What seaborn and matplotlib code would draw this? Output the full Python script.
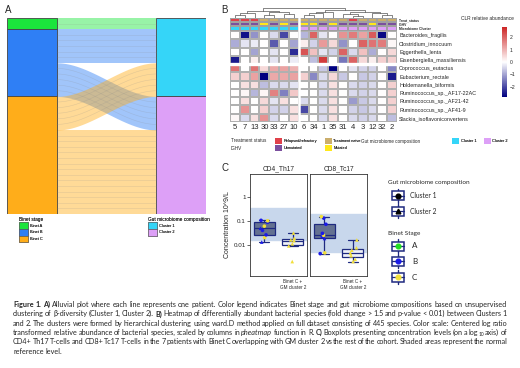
import numpy as np
import pandas as pd
import matplotlib
matplotlib.use("Agg")
import matplotlib.pyplot as plt
import seaborn as sns
from matplotlib.patches import Patch, Rectangle
from matplotlib.colors import LinearSegmentedColormap, ListedColormap

# ---- panel A data (patients per flow) ----
binet_levels = ["A", "B", "C"]
cluster_levels = ["Cluster 1", "Cluster 2"]
flow_from = ["A", "B", "B", "C", "C"]
flow_to = ["Cluster 1", "Cluster 1", "Cluster 2", "Cluster 1", "Cluster 2"]
flow_n = [2, 6, 6, 6, 15]

# ---- panel B data ----
hm_cols = ["5", "7", "13", "30", "33", "27", "10",
           "6", "34", "1", "35", "31", "4", "3", "12", "32", "2"]
hm_rows = ["Bacteroides_fragilis", "Clostridium_innocuum", "Eggerthella_lenta",
           "Eisenbergiella_massiliensis", "Coprococcus_eutactus", "Eubacterium_rectale",
           "Holdemanella_biformis", "Ruminococcus_sp._AF17-22AC", "Ruminococcus_sp._AF21-42",
           "Ruminococcus_sp._AF41-9", "Slackia_isoflavoniconvertens"]
hm_vals = [
    [0, -2.6, -1.2, 0, -0.4, -2.0, 0, -0.8, 2.0, -0.3, 0, 1.4, 1.7, 1.2, 2.1, -2.7, 0],
    [-0.9, -0.3, -0.2, 0, -1.8, 0, -1.0, 0.2, -0.5, 1.3, 0.5, -1.2, 0, 2.0, 1.8, 1.7, 0.1],
    [0, 0, -1.0, 0, -0.3, 0, -2.3, 2.2, 0.8, -0.3, -0.5, 2.0, -0.4, 0.8, -0.9, 0, 0.5],
    [-2.5, 0, 0.2, 0, -0.3, 0, -0.2, 0, -0.7, 2.5, 0, -1.5, 2.0, 0.5, 0.2, 0.6, 0.6],
    [1.8, 0, 1.8, 0.5, 1.1, 1.2, 1.0, 0, 0, -0.6, -2.8, 0, -0.3, -0.5, -0.5, 0, -1.3],
    [0.6, 0.6, 1.2, -2.8, 1.1, 1.1, 1.2, 0.6, -1.3, -0.4, 0.5, -0.6, 0, -0.6, -0.5, 0, -2.5],
    [0, 0.4, 0.4, -0.7, -0.4, -0.4, -0.3, 0, 0, -0.4, 0.4, 0, -0.4, -0.5, -0.4, 0, 0.6],
    [0, 0.1, -0.8, 0.1, 1.6, -1.4, 0.7, 0, 0, -0.4, 0.4, 0, -0.4, -0.5, -0.4, 0, 0.6],
    [0, 0.4, 0, 0.5, -0.3, 0.4, 0, -0.4, 0, -0.4, 0.4, 0, -1.1, -0.6, -0.4, 0, 0.6],
    [0, 1.4, 0, 0.6, -0.5, -0.5, 0.4, -2.0, 0, -0.4, 0.4, 0, -0.5, -0.6, -0.4, 0, 0.6],
    [0.1, -0.4, 0.4, 1.4, -0.4, 0, 0.4, 0, 0, -0.4, 0.4, 0, -0.4, -0.5, -0.4, 0, -0.7],
]
treat_status = ["R", "R", "R", "N", "N", "N", "N", "N", "N", "N", "N", "N", "R", "N", "N", "N", "N"]
ighv = ["U", "U", "U", "M", "U", "M", "U", "M", "M", "U", "M", "U", "U", "U", "M", "U", "U"]
gm_cluster = [1] * 7 + [2] * 10
# column dendrogram: (left, right, height), leaves are column indices
dendro = ((((0, 1, 0.3), 2, 0.5), ((3, 4, 0.25), (5, 6, 0.35), 0.55), 0.75),
          ((((7, 8, 0.3), 9, 0.45), 10, 0.6),
           ((11, (12, 13, 0.2), 0.4), (14, (15, 16, 0.3), 0.45), 0.55), 0.8), 1.0)

# ---- panel C data ----
groups = ["", "Binet C +\nGM cluster 2"]
cd4_rest = [0.013, 0.02, 0.026, 0.04, 0.049, 0.06, 0.087, 0.10, 0.105]
cd4_rest_stage = ["B", "C", "B", "B", "B", "C", "B", "C", "B"]
cd4_rest_cluster = [2, 1, 1, 1, 2, 1, 1, 1, 1]
cd4_c2 = [0.002, 0.009, 0.011, 0.015, 0.016, 0.019, 0.031]
cd8_rest = [0.0043, 0.0046, 0.02, 0.022, 0.025, 0.03, 0.072, 0.13, 0.15]
cd8_rest_stage = ["B", "C", "B", "B", "C", "B", "B", "B", "C"]
cd8_rest_cluster = [1, 1, 2, 1, 1, 1, 1, 1, 1]
cd8_c2 = [0.002, 0.0025, 0.0035, 0.0045, 0.006, 0.0075, 0.016]
ref_cd4 = (0.016, 0.36)
ref_cd8 = (0.005, 0.2)

# caption lines: (text, style) pieces; a piece starting with "~" is glued to the previous one
caption = [
    [("Figure 1. A)", "b"), ("Alluvial plot where each line represents one patient. Color legend indicates Binet stage and gut microbiome compositions based on unsupervised", "n")],
    [("clustering of β-diversity (Cluster 1, Cluster 2).", "n"), ("B)", "b"),
     ("Heatmap of differentially abundant bacterial species (fold change > 1.5 and p-value < 0.01) between Clusters 1", "n")],
    [("and 2. The clusters were formed by hierarchical clustering using ward.D method applied on full dataset consisting of 445 species. Color scale: Centered log ratio", "n")],
    [("transformed relative abundance of bacterial species, scaled by columns in", "n"), ("pheatmap", "i"),
     ("function in R.", "n"), ("C)", "b"), ("Boxplots presenting concentration levels (on a log", "n"),
     ("~10", "sub"), ("axis) of", "n")],
    [("CD4+ Th17 T-cells and CD8+ Tc17 T-cells in the 7 patients with Binet C overlapping with GM cluster 2 vs the rest of the cohort. Shaded areas represent the normal", "n")],
    [("reference level.", "n")],
]

sns.set_theme(style="white")
plt.rcParams["font.family"] = ["Liberation Sans", "DejaVu Sans"]
LATO = ["Lato", "DejaVu Sans"]

W, H = 520, 368
fig = plt.figure(figsize=(W / 100, H / 100), dpi=100)


def rect(x0, y0, x1, y1):
    return [x0 / W, 1 - y1 / H, (x1 - x0) / W, (y1 - y0) / H]


def fx(x):
    return x / W


def fy(y):
    return 1 - y / H


binet_col = {"A": "#1BE53C", "B": "#2F7FF5", "C": "#FFAD1A"}
clus_col = {"Cluster 1": "#35D5F8", "Cluster 2": "#DDA0F7"}

# ================= A: alluvial =================
ax_a = fig.add_axes(rect(7, 18, 206, 214))
total = sum(flow_n)
w = 1 / 3
ax_a.set_xlim(1 - w / 2, 2 + w / 2)
ax_a.set_ylim(total, 0)
ax_a.axis("off")

flows = pd.DataFrame({"src": flow_from, "dst": flow_to, "n": flow_n})
left_start, right_start = {}, {}
pos = 0
for b in binet_levels:
    for c in cluster_levels:
        m = flows[(flows.src == b) & (flows.dst == c)]
        if len(m):
            left_start[(b, c)] = pos
            pos += int(m.n.iloc[0])
pos = 0
for c in cluster_levels:
    for b in binet_levels:
        m = flows[(flows.src == b) & (flows.dst == c)]
        if len(m):
            right_start[(b, c)] = pos
            pos += int(m.n.iloc[0])

xs = np.linspace(1 + w / 2, 2 - w / 2, 80)
t = (xs - xs[0]) / (xs[-1] - xs[0])
s = t * t * (3 - 2 * t)
for b, c, n in zip(flow_from, flow_to, flow_n):
    yl, yr = left_start[(b, c)], right_start[(b, c)]
    top0 = yl + (yr - yl) * s
    ax_a.fill_between(xs, top0, top0 + n, color=binet_col[b], alpha=0.45, lw=0)
    for k in range(1, n):
        ax_a.plot(xs, top0 + k, color="#8a8a8a", alpha=0.25, lw=0.4)

pos = 0
for b in binet_levels:
    n = int(flows[flows.src == b].n.sum())
    ax_a.add_patch(Rectangle((1 - w / 2, pos), w, n, facecolor=binet_col[b], edgecolor="#444444", lw=0.6))
    pos += n
pos = 0
for c in cluster_levels:
    n = int(flows[flows.dst == c].n.sum())
    ax_a.add_patch(Rectangle((2 - w / 2, pos), w, n, facecolor=clus_col[c], edgecolor="#444444", lw=0.6))
    pos += n

fig.text(fx(5), fy(10), "A", fontsize=7, va="center")
leg = fig.legend([Patch(facecolor=binet_col[b], edgecolor="#555555", lw=0.4) for b in binet_levels],
                 ["Binet " + b for b in binet_levels], title="Binet stage", loc="upper left",
                 bbox_to_anchor=(fx(16), fy(214)), frameon=False, fontsize=2.8, title_fontsize=3.4,
                 handlelength=2.4, handleheight=2.2, labelspacing=0.1, handletextpad=0.6,
                 alignment="left", borderpad=0.2)
fig.add_artist(leg)
leg = fig.legend([Patch(facecolor=clus_col[c], edgecolor="#555555", lw=0.4) for c in cluster_levels],
                 cluster_levels, title="Gut microbiome composition", loc="upper left",
                 bbox_to_anchor=(fx(145), fy(214)), frameon=False, fontsize=2.8, title_fontsize=3.4,
                 handlelength=2.4, handleheight=2.2, labelspacing=0.1, handletextpad=0.6,
                 alignment="left", borderpad=0.2)
leg._legend_box.align = "left"
fig.add_artist(leg)

# ================= B: heatmap =================
hm = pd.DataFrame(hm_vals, index=hm_rows, columns=hm_cols)
cmap = LinearSegmentedColormap.from_list("clr", ["#000080", "#FFFFFF", "#CD2626"])
ax_hm = fig.add_axes(rect(230, 31, 397, 122))
ax_cb = fig.add_axes(rect(502, 27, 507, 97))
sns.heatmap(hm, ax=ax_hm, cmap=cmap, vmin=-2.8, vmax=2.8, cbar_ax=ax_cb,
            linewidths=0.3, linecolor="#B0B0B0", xticklabels=True, yticklabels=True)
ax_hm.axhline(4, color="white", lw=2.4)
ax_hm.axvline(7, color="white", lw=1.8)
ax_hm.yaxis.tick_right()
ax_hm.tick_params(length=0, pad=1.5)
ax_hm.set_yticklabels(hm_rows, rotation=0, fontsize=3.9)
ax_hm.set_xticklabels(hm_cols, rotation=0, fontsize=5.5)
ax_hm.set_xlabel("")
ax_cb.set_yticks([-2, -1, 0, 1, 2])
ax_cb.tick_params(labelsize=3.6, length=0, pad=2)
for sp in ax_cb.spines.values():
    sp.set_visible(False)
fig.text(fx(461), fy(19), "CLR relative abundance", fontsize=3.5, va="center")

ann_codes = {"R": 0, "N": 1, "U": 2, "M": 3, 1: 4, 2: 5}
ann = pd.DataFrame([[ann_codes[v] for v in treat_status],
                    [ann_codes[v] for v in ighv],
                    [ann_codes[v] for v in gm_cluster]],
                   index=["Treat_status", "IGHV", "Microbiome Cluster"], columns=hm_cols)
ann_colors = ["#E0414A", "#CBAE6C", "#7B4F9E", "#FFE81A", "#35D5F8", "#DDA0F7"]
ax_an = fig.add_axes(rect(230, 17.5, 397, 30.5))
sns.heatmap(ann, ax=ax_an, cmap=ListedColormap(ann_colors), vmin=-0.5, vmax=5.5, cbar=False,
            linewidths=0.3, linecolor="#A0A0A0", xticklabels=False, yticklabels=True)
ax_an.axvline(7, color="white", lw=1.8)
ax_an.yaxis.tick_right()
ax_an.tick_params(length=0, pad=1.5)
ax_an.set_yticklabels(ann.index, rotation=0, fontsize=2.4, fontweight="bold")

ax_d = fig.add_axes(rect(230, 8, 397, 17.5))
ax_d.set_xlim(0, len(hm_cols))
ax_d.set_ylim(0, 1.02)
ax_d.axis("off")


def draw_tree(node):
    if isinstance(node, int):
        return node + 0.5, 0.0
    l, r, h = node
    xl, hl = draw_tree(l)
    xr, hr = draw_tree(r)
    ax_d.plot([xl, xl, xr, xr], [hl, h, h, hr], color="#555555", lw=0.5)
    return (xl + xr) / 2, h


draw_tree(dendro)
fig.text(fx(221), fy(10), "B", fontsize=7, va="center")

# legend row under heatmap
fig.text(fx(231), fy(141), "Treatment status", fontsize=3.3, va="center")
fig.text(fx(231), fy(148), "IGHV", fontsize=3.3, va="center")
leg = fig.legend([Patch(facecolor=ann_colors[i], edgecolor="none") for i in [0, 2, 1, 3]],
                 ["Relapsed/refractory", "Unmutated", "Treatment naive", "Mutated"],
                 ncol=2, loc="upper left", bbox_to_anchor=(fx(273), fy(136.5)), frameon=False,
                 fontsize=2.8, handlelength=1.8, handleheight=1.8, labelspacing=0.3,
                 handletextpad=0.5, columnspacing=1.8, borderpad=0)
fig.add_artist(leg)
fig.text(fx(361), fy(141), "Gut microbiome composition", fontsize=3.3, va="center")
leg = fig.legend([Patch(facecolor=ann_colors[i], edgecolor="none") for i in [4, 5]],
                 ["Cluster 1", "Cluster 2"], ncol=2, loc="upper left",
                 bbox_to_anchor=(fx(450), fy(136.5)), frameon=False, fontsize=2.8,
                 handlelength=1.8, handleheight=1.8, handletextpad=0.5, columnspacing=1.8, borderpad=0)
fig.add_artist(leg)

# ================= C: boxplots =================
navy = "#1F2A80"
stage_col = {"A": "#22DD22", "B": "#1A1AE8", "C": "#F2DF3A"}
box_pal = {groups[0]: "#5C6E99", groups[1]: "#EEF1F8"}


def make_df(rest, rest_stage, rest_cluster, c2):
    return pd.DataFrame({
        "group": [groups[0]] * len(rest) + [groups[1]] * len(c2),
        "value": list(rest) + list(c2),
        "stage": list(rest_stage) + ["C"] * len(c2),
        "cluster": list(rest_cluster) + [2] * len(c2),
    })


panels = [("CD4_Th17", make_df(cd4_rest, cd4_rest_stage, cd4_rest_cluster, cd4_c2), ref_cd4, rect(250, 174, 307, 276)),
          ("CD8_Tc17", make_df(cd8_rest, cd8_rest_stage, cd8_rest_cluster, cd8_c2), ref_cd8, rect(310, 174, 367, 276))]
np.random.seed(3)
for i, (title, d, ref, r) in enumerate(panels):
    ax = fig.add_axes(r)
    ax.axhspan(ref[0], ref[1], color="#C8D7EC", zorder=0)
    sns.boxplot(data=d, x="group", y="value", hue="group", order=groups, hue_order=groups,
                palette=box_pal, width=0.72, linecolor=navy, linewidth=0.9, showfliers=False,
                log_scale=True, legend=False, ax=ax)
    for cl, mk in [(1, "o"), (2, "^")]:
        sub = d[d.cluster == cl]
        sns.stripplot(data=sub, x="group", y="value", hue="stage", order=groups,
                      palette=stage_col, marker=mk, size=2.6, jitter=0.15, linewidth=0,
                      legend=False, ax=ax)
    ax.set_ylim(0.0005, 9)
    ax.set_xlim(-0.5, 1.5)
    ax.minorticks_off()
    ax.set_yticks([0.01, 0.1, 1])
    ax.set_xlabel("")
    ax.set_ylabel("")
    ax.set_title(title, fontsize=4.8, pad=3)
    ax.tick_params(axis="x", labelsize=3.3, length=0, pad=2)
    if i == 0:
        ax.set_yticklabels(["0.01", "0.1", "1"])
        ax.tick_params(axis="y", labelsize=4.5, length=2, width=0.5, pad=1, left=True)
        ax.set_ylabel("Concentration 10^9/L", fontsize=5, labelpad=2)
    else:
        ax.set_yticklabels([])
        ax.tick_params(axis="y", length=0)
    for sp in ax.spines.values():
        sp.set_color("#333333")
        sp.set_linewidth(0.6)

fig.text(fx(221), fy(168), "C", fontsize=7, va="center")

# legend for C, drawn as small box glyphs
ax_l = fig.add_axes(rect(380, 175, 480, 290))
ax_l.set_xlim(380, 480)
ax_l.set_ylim(290, 175)
ax_l.axis("off")


def box_icon(yc, mk, col):
    ax_l.plot([398, 398], [yc - 7, yc + 7], color=navy, lw=1.0)
    ax_l.add_patch(Rectangle((392, yc - 4.5), 12, 9, facecolor="white", edgecolor=navy, lw=1.1, zorder=2))
    ax_l.plot([392, 404], [yc, yc], color=navy, lw=0.9, zorder=3)
    ax_l.plot([398], [yc], marker=mk, ms=3.4, color=col, ls="", zorder=4)


ax_l.text(388, 183, "Gut microbiome composition", fontsize=4.6, va="center", family=LATO)
for yc, lab, mk in [(196, "Cluster 1", "o"), (211, "Cluster 2", "^")]:
    box_icon(yc, mk, "black")
    ax_l.text(410, yc, lab, fontsize=4.8, va="center", family=LATO)
ax_l.text(388, 233, "Binet Stage", fontsize=4.6, va="center", family=LATO)
for yc, b in zip([246, 261, 277], binet_levels):
    box_icon(yc, "o", stage_col[b])
    ax_l.text(412, yc, b, fontsize=5.8, va="center", family=LATO)

# ================= caption (justified) =================
renderer = fig.canvas.get_renderer()
cap_size = 5.2
cap_x0, cap_x1 = 13.0, 507.0


def style_kw(style):
    if style == "b":
        return {"fontsize": cap_size, "fontweight": "bold"}, 0
    if style == "i":
        return {"fontsize": cap_size, "style": "italic"}, 0
    if style == "sub":
        return {"fontsize": cap_size * 0.65}, 1.3
    return {"fontsize": cap_size}, 0


for k, pieces in enumerate(caption):
    # tokens: [word, style, glued]
    tokens = []
    for txt, style in pieces:
        glued = txt.startswith("~")
        for j, word in enumerate(txt.lstrip("~").split(" ")):
            tokens.append([word, style, glued and j == 0])
    base = 307 + 9.3 * k
    arts = []
    for word, style, glued in tokens:
        kw, dy = style_kw(style)
        tt = fig.text(0, fy(base + dy), word, va="baseline", family=LATO, **kw)
        arts.append((tt, tt.get_window_extent(renderer).width, glued))
    n_gaps = sum(1 for a in arts[1:] if not a[2])
    words_w = sum(a[1] for a in arts)
    last = k == len(caption) - 1
    gap = 1.45 if last else (cap_x1 - cap_x0 - words_w) / max(n_gaps, 1)
    x = cap_x0
    for j, (tt, wpx, glued) in enumerate(arts):
        if j > 0 and not glued:
            x += gap
        tt.set_x(fx(x))
        x += wpx

fig.savefig("out.png", dpi=100)
